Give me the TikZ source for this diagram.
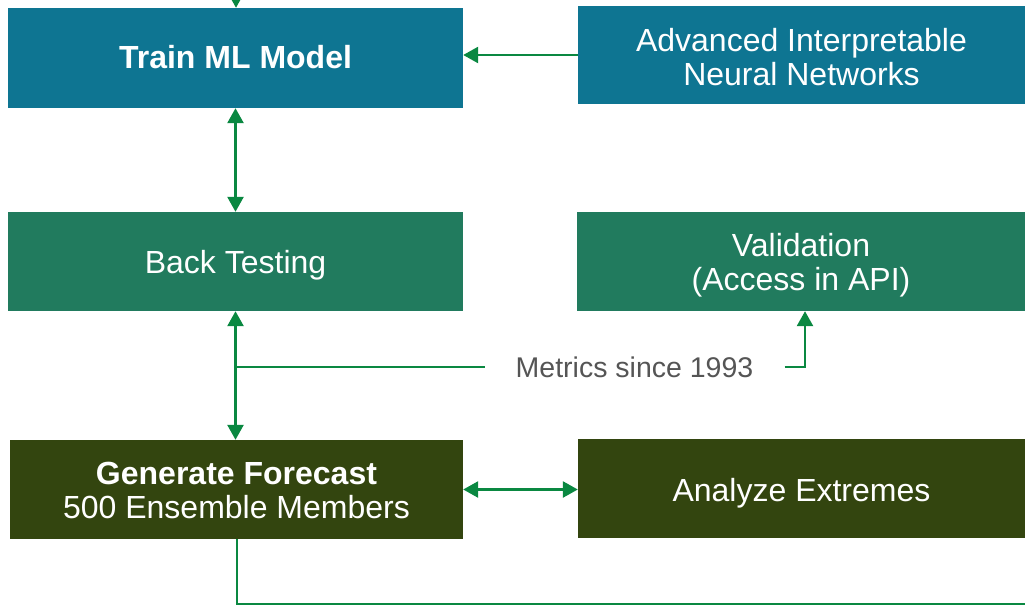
\documentclass[tikz,border=0pt]{standalone}
\usepackage{fontspec}
\setmainfont{Liberation Sans}
\usetikzlibrary{arrows.meta}
\definecolor{teal1}{HTML}{0E7592}
\definecolor{green1}{HTML}{217B5E}
\definecolor{olive1}{HTML}{33450F}
\definecolor{conn}{HTML}{0A8841}
\definecolor{gray1}{HTML}{555555}
\begin{document}
\begin{tikzpicture}[x=1pt,y=-1pt,
  box/.style={rectangle, draw=none, inner sep=0pt},
  txt/.style={text=white, align=center, inner sep=0pt,
    font=\fontsize{32}{34}\selectfont},
  conline/.style={draw=conn, line width=2.6pt},
  tip/.style={-{Triangle[length=15pt,width=16pt]}},
  dtip/.style={{Triangle[length=15pt,width=16pt]}-{Triangle[length=15pt,width=16pt]}}]
\useasboundingbox (0,0) rectangle (1025,605);
\node[box, fill=teal1, minimum width=455pt, minimum height=100pt] (train) at (235.5,58) {};
\node[box, fill=teal1, minimum width=447pt, minimum height=98pt] (adv) at (801.5,55) {};
\node[box, fill=green1, minimum width=455pt, minimum height=99pt] (back) at (235.5,261.5) {};
\node[box, fill=green1, minimum width=448pt, minimum height=99pt] (val) at (801,261.5) {};
\node[box, fill=olive1, minimum width=453pt, minimum height=99pt] (gen) at (236.5,489.5) {};
\node[box, fill=olive1, minimum width=447pt, minimum height=99pt] (ana) at (801.5,488.5) {};
\node[txt] (trainT) at ([yshift=1pt]train.center) {\textbf{Train ML Model}};
\node[txt] (advT) at ([yshift=-2pt]adv.center) {Advanced Interpretable\\Neural Networks};
\node[txt] (backT) at ([yshift=-4pt]back.center) {Back Testing};
\node[txt] (valT) at ([yshift=-4pt]val.center) {Validation\\(Access in API)};
\node[txt] (genT) at ([yshift=-1pt]gen.center) {\textbf{Generate Forecast}\\500 Ensemble Members};
\node[txt] (anaT) at ([yshift=-5pt]ana.center) {Analyze Extremes};
\node[text=gray1, inner xsep=31pt, inner ysep=2pt, font=\fontsize{28.5}{30}\selectfont] (met) at (634.5,367) {Metrics since 1993};
\coordinate (topin) at (236,0);
\coordinate (br) at (1025,604);
\draw[conline, tip] (topin) -- (topin |- train.north);
\draw[conline, tip] (adv.west) -- (adv.west -| train.east);
\draw[conline, dtip] (train.south) -- (back.north);
\draw[conline, dtip] (back.south) -- (back.south |- gen.north);
\draw[conline] (back.south |- met.west) -- (met.west);
\draw[conline, tip] (met.east) -| ([xshift=4pt]val.south);
\draw[conline, dtip] (gen.east) -- (gen.east -| ana.west);
\draw[draw=conn, line width=2pt] (gen.south) |- (br);
\end{tikzpicture}
\end{document}
